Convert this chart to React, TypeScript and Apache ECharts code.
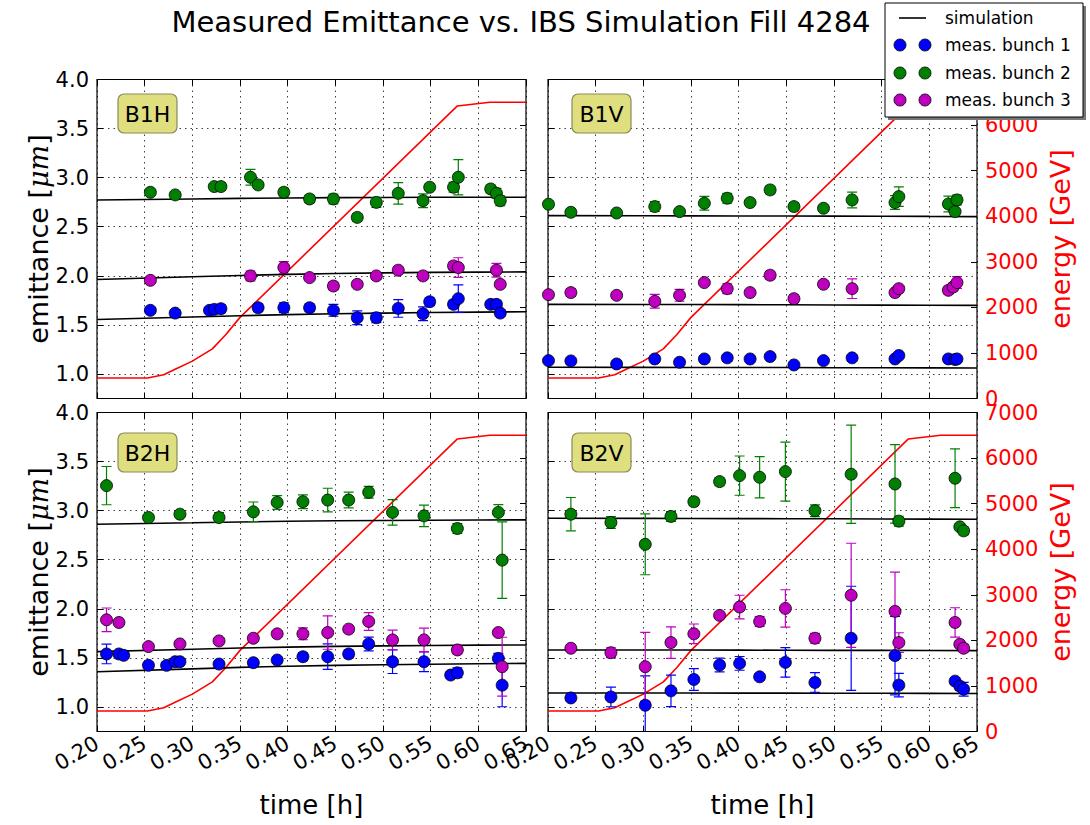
import React, { useEffect, useRef } from 'react';
import * as echarts from 'echarts';

// ---------- data ----------
const X_MIN = 0.2;
const X_MAX = 0.65;
const EMIT_MIN = 0.75;
const EMIT_MAX = 4.0;
const ENERGY_MAX = 7000;

const PANEL_LABELS = ['B1H', 'B1V', 'B2H', 'B2V'];
const SERIES_NAMES = ['simulation', 'meas. bunch 1', 'meas. bunch 2', 'meas. bunch 3'];

// energy ramp [time h, GeV]
const ENERGY_T = [0.2, 0.253, 0.27, 0.282, 0.3, 0.321, 0.335, 0.35, 0.578, 0.612, 0.65];
const ENERGY_GEV = [450, 450, 520, 640, 820, 1090, 1400, 1780, 6420, 6500, 6500];

// simulation curves
const SIM_T = [0.2, 0.3, 0.4, 0.5, 0.6, 0.65];
const B1H_SIM1 = [1.555, 1.58, 1.605, 1.62, 1.63, 1.634];
const B1H_SIM2 = [2.772, 2.783, 2.793, 2.798, 2.8, 2.8];
const B1H_SIM3 = [1.963, 1.99, 2.015, 2.03, 2.038, 2.04];
const B1V_SIM1 = [1.068, 1.067, 1.066, 1.064, 1.062, 1.061];
const B1V_SIM2 = [2.613, 2.612, 2.61, 2.608, 2.605, 2.603];
const B1V_SIM3 = [1.709, 1.708, 1.706, 1.703, 1.7, 1.699];
const B2H_SIM1 = [1.359, 1.388, 1.415, 1.43, 1.44, 1.444];
const B2H_SIM2 = [2.862, 2.877, 2.892, 2.9, 2.905, 2.906];
const B2H_SIM3 = [1.564, 1.588, 1.61, 1.622, 1.63, 1.632];
const B2V_SIM1 = [1.143, 1.142, 1.141, 1.14, 1.138, 1.137];
const B2V_SIM2 = [2.923, 2.921, 2.919, 2.917, 2.914, 2.913];
const B2V_SIM3 = [1.581, 1.58, 1.579, 1.577, 1.575, 1.574];

// measurements [time h, emittance um, error]
const B1H_B1 = [[0.256,1.648,0.03],[0.282,1.62,0.03],[0.318,1.648,0.03],[0.323,1.658,0.03],[0.33,1.665,0.04],[0.369,1.675,0.04],[0.396,1.675,0.05],[0.423,1.675,0.04],[0.448,1.648,0.06],[0.473,1.573,0.07],[0.493,1.573,0.05],[0.516,1.668,0.09],[0.542,1.613,0.07],[0.549,1.736,0.04],[0.574,1.709,0.04],[0.579,1.767,0.14],[0.613,1.709,0.03],[0.619,1.709,0.04],[0.623,1.62,0.03]];
const B1H_B2 = [[0.256,2.851,0.03],[0.282,2.824,0.03],[0.323,2.909,0.03],[0.33,2.909,0.04],[0.361,3.004,0.08],[0.369,2.926,0.03],[0.396,2.851,0.04],[0.423,2.783,0.04],[0.448,2.783,0.05],[0.473,2.595,0.04],[0.493,2.748,0.05],[0.516,2.84,0.11],[0.542,2.765,0.07],[0.549,2.902,0.03],[0.574,2.902,0.05],[0.579,3.004,0.18],[0.613,2.885,0.04],[0.619,2.84,0.05],[0.623,2.765,0.05]];
const B1H_B3 = [[0.256,1.954,0.03],[0.361,1.999,0.05],[0.396,2.084,0.06],[0.423,1.982,0.03],[0.448,1.896,0.04],[0.473,1.913,0.03],[0.493,1.999,0.03],[0.516,2.057,0.03],[0.542,1.999,0.03],[0.574,2.101,0.04],[0.579,2.084,0.1],[0.619,2.057,0.07],[0.623,1.913,0.03]];

const B1V_B1 = [[0.2005,1.136,0.02],[0.224,1.133,0.02],[0.272,1.102,0.02],[0.312,1.153,0.03],[0.338,1.119,0.02],[0.364,1.153,0.03],[0.388,1.164,0.03],[0.412,1.153,0.02],[0.433,1.177,0.02],[0.458,1.092,0.02],[0.489,1.136,0.02],[0.519,1.164,0.03],[0.564,1.153,0.03],[0.568,1.188,0.03],[0.62,1.153,0.03],[0.627,1.147,0.02],[0.629,1.153,0.03]];
const B1V_B2 = [[0.2005,2.729,0.03],[0.224,2.647,0.03],[0.272,2.64,0.02],[0.312,2.705,0.05],[0.338,2.654,0.03],[0.364,2.739,0.07],[0.388,2.79,0.05],[0.412,2.746,0.03],[0.433,2.875,0.04],[0.458,2.705,0.04],[0.489,2.688,0.03],[0.519,2.773,0.08],[0.564,2.746,0.07],[0.568,2.807,0.1],[0.62,2.732,0.08],[0.627,2.654,0.03],[0.629,2.773,0.05]];
const B1V_B3 = [[0.2005,1.808,0.03],[0.224,1.829,0.04],[0.272,1.801,0.03],[0.312,1.74,0.07],[0.338,1.801,0.06],[0.364,1.931,0.03],[0.388,1.869,0.05],[0.412,1.829,0.03],[0.433,2.006,0.04],[0.458,1.767,0.04],[0.489,1.914,0.03],[0.519,1.869,0.1],[0.564,1.829,0.03],[0.568,1.869,0.03],[0.62,1.852,0.04],[0.625,1.886,0.04],[0.629,1.931,0.06]];

const B2H_B1 = [[0.21,1.54,0.1],[0.223,1.54,0.03],[0.228,1.526,0.03],[0.254,1.424,0.03],[0.273,1.424,0.03],[0.282,1.461,0.03],[0.287,1.461,0.03],[0.328,1.437,0.03],[0.364,1.451,0.03],[0.389,1.478,0.03],[0.416,1.512,0.04],[0.442,1.512,0.13],[0.464,1.54,0.04],[0.485,1.642,0.07],[0.51,1.461,0.12],[0.543,1.461,0.1],[0.571,1.325,0.03],[0.578,1.348,0.05],[0.621,1.495,0.05],[0.625,1.222,0.22]];
const B2H_B2 = [[0.21,3.255,0.195],[0.254,2.93,0.03],[0.287,2.964,0.03],[0.328,2.93,0.05],[0.364,2.988,0.1],[0.389,3.084,0.07],[0.416,3.091,0.07],[0.442,3.108,0.12],[0.464,3.108,0.08],[0.485,3.187,0.06],[0.51,2.982,0.13],[0.543,2.947,0.11],[0.578,2.818,0.05],[0.621,2.982,0.08],[0.625,2.496,0.39]];
const B2H_B3 = [[0.21,1.888,0.12],[0.223,1.861,0.03],[0.254,1.615,0.03],[0.287,1.642,0.03],[0.328,1.673,0.03],[0.364,1.7,0.03],[0.389,1.745,0.03],[0.416,1.745,0.06],[0.442,1.758,0.17],[0.464,1.793,0.03],[0.485,1.871,0.09],[0.51,1.683,0.1],[0.543,1.683,0.12],[0.578,1.581,0.04],[0.621,1.758,0.03],[0.625,1.41,0.3]];

const B2V_B1 = [[0.224,1.092,0.03],[0.266,1.102,0.1],[0.302,1.017,0.3],[0.329,1.164,0.16],[0.353,1.28,0.11],[0.38,1.427,0.07],[0.401,1.444,0.07],[0.422,1.307,0.03],[0.449,1.454,0.15],[0.48,1.249,0.1],[0.518,1.7,0.53],[0.564,1.523,0.4],[0.568,1.222,0.12],[0.627,1.263,0.03],[0.632,1.212,0.04],[0.636,1.181,0.07]];
const B2V_B2 = [[0.224,2.964,0.17],[0.266,2.879,0.06],[0.302,2.657,0.31],[0.329,2.941,0.05],[0.353,3.091,0.04],[0.38,3.296,0.04],[0.401,3.357,0.2],[0.422,3.34,0.21],[0.449,3.398,0.3],[0.48,2.999,0.06],[0.518,3.371,0.5],[0.564,3.272,0.4],[0.568,2.893,0.05],[0.627,3.33,0.3],[0.632,2.835,0.03],[0.636,2.794,0.04]];
const B2V_B3 = [[0.224,1.598,0.03],[0.266,1.553,0.05],[0.302,1.41,0.35],[0.329,1.656,0.16],[0.353,1.745,0.1],[0.38,1.933,0.03],[0.401,2.018,0.12],[0.422,1.871,0.05],[0.449,2.004,0.19],[0.48,1.7,0.05],[0.518,2.138,0.53],[0.564,1.974,0.4],[0.568,1.656,0.1],[0.627,1.861,0.15],[0.632,1.639,0.03],[0.636,1.598,0.04]];

const PANEL_MEAS = [
  [B1H_B1, B1H_B2, B1H_B3],
  [B1V_B1, B1V_B2, B1V_B3],
  [B2H_B1, B2H_B2, B2H_B3],
  [B2V_B1, B2V_B2, B2V_B3],
];
const PANEL_SIM = [
  [B1H_SIM1, B1H_SIM2, B1H_SIM3],
  [B1V_SIM1, B1V_SIM2, B1V_SIM3],
  [B2H_SIM1, B2H_SIM2, B2H_SIM3],
  [B2V_SIM1, B2V_SIM2, B2V_SIM3],
];

// ---------- styling ----------
const COLORS = ['#0000ff', '#008000', '#bf00bf'];
const FONT = 'DejaVu Sans';
const GRIDS = [
  { left: 97, top: 79.5, width: 429, height: 319 },
  { left: 548, top: 79.5, width: 429, height: 319 },
  { left: 97, top: 412.5, width: 429, height: 319 },
  { left: 548, top: 412.5, width: 429, height: 319 },
];
const LABEL_POS = [[118, 94], [572, 94], [118, 433], [572, 433]];
const DOTTED = { color: '#000', type: [1.5, 4], width: 1, opacity: 0.75 };

function errRender(color: string) {
  return (params: any, api: any) => {
    const x = api.value(0);
    const y = api.value(1);
    const e = api.value(2);
    const p1 = api.coord([x, y + e]);
    const p2 = api.coord([x, y - e]);
    const st = { stroke: color, lineWidth: 1.2 };
    return {
      type: 'group',
      children: [
        { type: 'line', shape: { x1: p1[0], y1: p1[1], x2: p2[0], y2: p2[1] }, style: st },
        { type: 'line', shape: { x1: p1[0] - 5, y1: p1[1], x2: p1[0] + 5, y2: p1[1] }, style: st },
        { type: 'line', shape: { x1: p2[0] - 5, y1: p2[1], x2: p2[0] + 5, y2: p2[1] }, style: st },
      ],
    };
  };
}

function buildOption() {
  const xAxis: any[] = [];
  const yAxis: any[] = [];
  const series: any[] = [];
  const tickFmt2 = (v: number) => v.toFixed(2);

  for (let p = 0; p < 4; p++) {
    const bottomRow = p >= 2;
    xAxis.push({
      type: 'value', gridIndex: p, position: 'bottom', min: X_MIN, max: X_MAX, interval: 0.05,
      axisLine: { show: false },
      axisTick: { inside: true, length: 6, lineStyle: { color: '#000' } },
      axisLabel: { show: bottomRow, rotate: 30, fontSize: 21, color: '#000', margin: 10, fontFamily: FONT, formatter: tickFmt2 },
      splitLine: { show: true, lineStyle: DOTTED },
      name: bottomRow ? 'time [h]' : '',
      nameLocation: 'middle', nameGap: 60,
      nameTextStyle: { fontSize: 26, color: '#000', fontFamily: FONT },
    });
  }
  for (let p = 0; p < 4; p++) {
    xAxis.push({
      type: 'value', gridIndex: p, position: 'top', min: X_MIN, max: X_MAX, interval: 0.05,
      axisLine: { show: false },
      axisTick: { inside: true, length: 6, lineStyle: { color: '#000' } },
      axisLabel: { show: false },
      splitLine: { show: false },
    });
  }
  for (let p = 0; p < 4; p++) {
    const rightCol = p % 2 === 1;
    const topRow = p < 2;
    yAxis.push({
      type: 'value', gridIndex: p, position: 'left', min: EMIT_MIN, max: EMIT_MAX, splitNumber: 6,
      axisLine: { show: false },
      axisTick: { inside: true, length: 6, lineStyle: { color: '#000' } },
      axisLabel: { show: !rightCol, fontSize: 21, color: '#000', margin: 8, fontFamily: FONT, showMinLabel: false, formatter: (v: number) => v.toFixed(1) },
      splitLine: { show: true, lineStyle: DOTTED },
      name: rightCol ? '' : 'emittance [{i|μm}]',
      nameLocation: 'middle', nameGap: 45, nameRotate: 90,
      nameTextStyle: {
        fontSize: 27, color: '#000', fontFamily: FONT,
        rich: { i: { fontSize: 27, fontStyle: 'italic', fontFamily: 'DejaVu Serif', color: '#000' } },
      },
    });
    yAxis.push({
      type: 'value', gridIndex: p, position: 'right', min: 0, max: ENERGY_MAX, interval: 1000,
      axisLine: { show: false },
      axisTick: { inside: true, length: 6, lineStyle: { color: '#000' } },
      axisLabel: {
        show: rightCol, fontSize: 21, color: '#ff0000', margin: 8, fontFamily: FONT,
        showMaxLabel: !topRow, formatter: (v: number) => String(Math.round(v)),
      },
      splitLine: { show: false },
      name: rightCol ? 'energy [GeV]' : '',
      nameLocation: 'middle', nameGap: 70, nameRotate: 90,
      nameTextStyle: { fontSize: 27, color: '#ff0000', fontFamily: FONT },
    });
  }

  for (let p = 0; p < 4; p++) {
    series.push({
      type: 'line', xAxisIndex: p, yAxisIndex: 2 * p + 1,
      data: ENERGY_T.map((t, i) => [t, ENERGY_GEV[i]]),
      showSymbol: false, symbol: 'none', lineStyle: { color: '#ff0000', width: 1.6 }, z: 2,
    });
    for (let s = 0; s < 3; s++) {
      series.push({
        type: 'line', name: SERIES_NAMES[0], xAxisIndex: p, yAxisIndex: 2 * p,
        data: SIM_T.map((t, i) => [t, PANEL_SIM[p][s][i]]),
        showSymbol: false, symbol: 'none', smooth: true, lineStyle: { color: '#000', width: 1.6 }, z: 3,
      });
    }
    for (let s = 0; s < 3; s++) {
      series.push({
        type: 'custom', name: SERIES_NAMES[s + 1] + ' err', xAxisIndex: p, yAxisIndex: 2 * p,
        data: PANEL_MEAS[p][s], renderItem: errRender(COLORS[s]), clip: true, z: 4,
      });
    }
    for (let s = 0; s < 3; s++) {
      series.push({
        type: 'scatter', name: SERIES_NAMES[s + 1], xAxisIndex: p, yAxisIndex: 2 * p,
        data: PANEL_MEAS[p][s].map((d) => [d[0], d[1]]),
        symbol: 'circle', symbolSize: 12,
        itemStyle: { color: COLORS[s], borderColor: '#000', borderWidth: 0.8, opacity: 1 },
        clip: true, z: 5,
      });
    }
  }

  const graphic: any[] = [];
  graphic.push({
    type: 'text', x: 521, y: 22, z: 10,
    style: { text: 'Measured Emittance vs. IBS Simulation Fill 4284', font: `29px "${FONT}"`, fill: '#000', textAlign: 'center', textVerticalAlign: 'middle' },
  });
  for (let p = 0; p < 4; p++) {
    const [lx, ly] = LABEL_POS[p];
    graphic.push({ type: 'rect', z: 10, shape: { x: lx, y: ly, width: 59, height: 39, r: 6 }, style: { fill: '#dfdf80', stroke: '#8a8a5a', lineWidth: 1.2 } });
    graphic.push({ type: 'text', z: 11, x: lx + 29.5, y: ly + 20, style: { text: PANEL_LABELS[p], font: `22px "${FONT}"`, fill: '#000', textAlign: 'center', textVerticalAlign: 'middle' } });
  }
  // legend
  graphic.push({ type: 'rect', z: 20, shape: { x: 888, y: 6, width: 198, height: 114 }, style: { fill: '#777' } });
  graphic.push({ type: 'rect', z: 21, shape: { x: 885, y: 3, width: 198, height: 114 }, style: { fill: '#fff', stroke: '#000', lineWidth: 1 } });
  graphic.push({ type: 'line', z: 22, shape: { x1: 899, y1: 18, x2: 926, y2: 18 }, style: { stroke: '#000', lineWidth: 1.6 } });
  const legendY = [18, 45, 73, 100];
  for (let i = 0; i < 4; i++) {
    if (i > 0) {
      for (const cx of [900, 925]) {
        graphic.push({ type: 'circle', z: 22, shape: { cx, cy: legendY[i], r: 6 }, style: { fill: COLORS[i - 1], stroke: '#000', lineWidth: 0.8 } });
      }
    }
    graphic.push({ type: 'text', z: 22, x: 945, y: legendY[i], style: { text: SERIES_NAMES[i], font: `17px "${FONT}"`, fill: '#000', textVerticalAlign: 'middle' } });
  }

  return {
    animation: false,
    backgroundColor: '#fff',
    textStyle: { fontFamily: FONT },
    grid: GRIDS.map((g) => ({ ...g, show: true, borderColor: '#000', borderWidth: 1.2, backgroundColor: 'transparent', containLabel: false })),
    xAxis, yAxis, series, graphic,
  };
}

export default function App() {
  const ref = useRef<HTMLDivElement>(null);
  useEffect(() => {
    if (!ref.current) return;
    const chart = echarts.init(ref.current, undefined, { renderer: 'svg' });
    chart.setOption(buildOption() as any);
    return () => chart.dispose();
  }, []);
  return <div ref={ref} style={{ position: 'absolute', left: 0, top: 0, width: 1090, height: 825 }} />;
}
